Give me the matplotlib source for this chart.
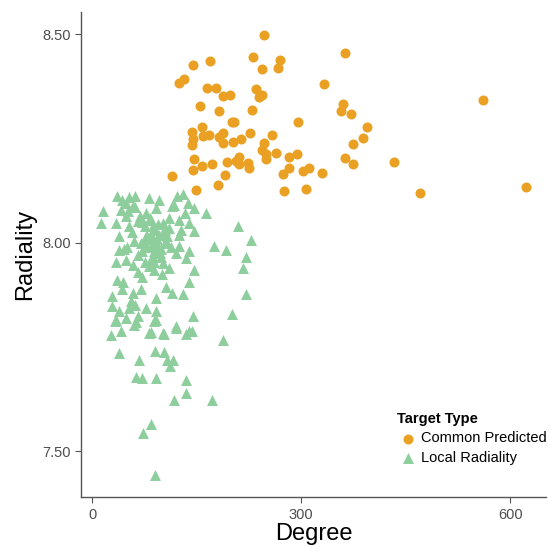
import numpy as np
import matplotlib
matplotlib.use("Agg")
import matplotlib.pyplot as plt
from matplotlib.ticker import FormatStrFormatter

plt.rcParams['font.family'] = ['Liberation Sans', 'DejaVu Sans']

# Common Predicted (orange circles)
common_degree = [247, 144, 169, 231, 270, 244, 266, 125, 131, 165, 178, 188, 198,
                 235, 240, 244, 155, 182, 230, 201, 204, 296, 143, 158, 159, 168,
                 143, 144, 182, 188, 188, 202, 214, 226, 258, 247, 244, 249, 264,
                 282, 294, 146, 158, 172, 145, 193, 207, 211, 210, 223, 225, 250,
                 191, 274, 283, 303, 311, 115, 180, 149, 275, 307, 363, 333, 561,
                 360, 357, 372, 394, 388, 374, 363, 374, 433, 330, 470, 623]
common_radiality = [8.498, 8.426, 8.436, 8.446, 8.439, 8.416, 8.418, 8.383, 8.392,
                    8.371, 8.371, 8.352, 8.354, 8.369, 8.350, 8.354, 8.328, 8.316,
                    8.319, 8.289, 8.290, 8.289, 8.266, 8.277, 8.256, 8.258, 8.234,
                    8.248, 8.254, 8.264, 8.240, 8.242, 8.249, 8.262, 8.258, 8.240,
                    8.222, 8.213, 8.216, 8.206, 8.213, 8.200, 8.184, 8.189, 8.175,
                    8.194, 8.197, 8.206, 8.189, 8.192, 8.179, 8.200, 8.163, 8.165,
                    8.179, 8.171, 8.178, 8.160, 8.139, 8.127, 8.125, 8.129, 8.454,
                    8.380, 8.342, 8.332, 8.316, 8.309, 8.278, 8.250, 8.236, 8.203,
                    8.189, 8.194, 8.167, 8.119, 8.133]

# Local Radiality (green triangles)
local_degree = [35, 43, 53, 62, 48, 58, 41, 82, 96, 91, 121, 130, 115, 146, 163,
                16, 12, 34, 48, 53, 65, 77, 84, 101, 110, 125, 133, 139, 146, 125,
                39, 60, 77, 87, 96, 106, 125, 139, 209, 228, 175, 192, 221, 216,
                38, 34, 48, 58, 72, 87, 94, 101, 110, 120, 134, 146, 89, 72, 36,
                29, 43, 58, 70, 91, 106, 115, 130, 139, 29, 39, 53, 65, 77, 91,
                34, 48, 91, 60, 82, 101, 120, 139, 144, 221, 201, 27, 41,
                85, 90, 80, 95, 88, 92, 78, 100, 84, 97, 75, 70, 105, 110, 65,
                32, 63, 89, 84, 103, 120, 134, 143, 188, 38, 67, 90, 103, 107,
                116, 111, 63, 72, 91, 134, 134, 118, 172, 84, 73, 90,
                74, 79, 86, 93, 99, 104, 82, 88, 95, 76, 68, 108, 113, 98, 83,
                57, 46, 52, 66, 44, 55, 62, 50, 117, 128, 137, 71, 87, 100, 61]
local_radiality = [8.111, 8.103, 8.109, 8.112, 8.095, 8.087, 8.079, 8.107, 8.103,
                   8.083, 8.111, 8.117, 8.087, 8.083, 8.071, 8.075, 8.047, 8.047,
                   8.063, 8.039, 8.051, 8.071, 8.055, 8.047, 8.035, 8.055, 8.071,
                   8.047, 8.027, 8.019, 8.015, 8.003, 8.015, 8.000, 8.019, 8.003,
                   7.991, 7.979, 8.039, 8.007, 7.991, 7.983, 7.967, 7.939, 7.983,
                   7.955, 7.959, 7.947, 7.979, 7.967, 7.983, 7.951, 7.939, 7.975,
                   7.963, 7.935, 7.935, 7.919, 7.911, 7.872, 7.888, 7.880, 7.888,
                   7.868, 7.895, 7.880, 7.876, 7.907, 7.848, 7.836, 7.844, 7.824,
                   7.844, 7.836, 7.816, 7.820, 7.816, 7.804, 7.784, 7.784, 7.800,
                   7.788, 7.824, 7.876, 7.828, 7.780, 7.788,
                   8.020, 8.030, 8.010, 7.990, 7.980, 8.000, 7.990, 8.020, 7.960,
                   7.975, 8.040, 8.000, 8.030, 8.060, 7.970,
                   7.812, 7.809, 7.812, 7.785, 7.782, 7.796, 7.782, 7.788, 7.766,
                   7.736, 7.718, 7.740, 7.738, 7.720, 7.718, 7.704, 7.679, 7.676,
                   7.676, 7.672, 7.640, 7.624, 7.623, 7.565, 7.545, 7.443,
                   8.005, 8.015, 7.995, 8.010, 7.985, 8.000, 7.945, 7.955, 8.045,
                   7.955, 8.065, 8.015, 7.990, 7.965, 8.060, 8.025, 7.985, 8.075,
                   7.930, 7.905, 7.860, 8.085, 7.990, 8.090, 8.030, 8.095, 8.050,
                   8.040, 7.925, 7.850]

orange = "#E9A023"
green = "#8DCE9C"

fig = plt.figure(figsize=(5.48, 5.47), dpi=100)
ax = fig.add_axes([0.148, 0.091, 0.848, 0.887])

ax.scatter(common_degree, common_radiality, s=52, marker="o", color=orange,
           linewidths=0, label="Common Predicted", zorder=3)
ax.scatter(local_degree, local_radiality, s=62, marker="^", color=green,
           linewidths=0, label="Local Radiality", zorder=2)

ax.set_xlim(-16, 651)
ax.set_ylim(7.39, 8.553)
ax.set_xticks([0, 300, 600])
ax.set_yticks([7.5, 8.0, 8.5])
ax.yaxis.set_major_formatter(FormatStrFormatter("%.2f"))

for side in ["top", "right"]:
    ax.spines[side].set_visible(False)
for side in ["left", "bottom"]:
    ax.spines[side].set_color("#555555")
    ax.spines[side].set_linewidth(1.0)
ax.tick_params(colors="#555555", labelcolor="#4D4D4D", labelsize=10.5,
               length=4, width=0.8)

ax.set_xlabel("Degree", fontsize=17, labelpad=1)
ax.set_ylabel("Radiality", fontsize=17, labelpad=4)

leg = ax.legend(loc="upper left", bbox_to_anchor=(0.665, 0.19), frameon=False,
                title="Target Type", fontsize=10.5, handletextpad=0.1,
                borderpad=0, labelspacing=0.35, handlelength=1.5)
leg.get_title().set_fontweight("bold")
leg.get_title().set_fontsize(10.5)
leg._legend_box.align = "left"

plt.savefig("out.png", dpi=100)
